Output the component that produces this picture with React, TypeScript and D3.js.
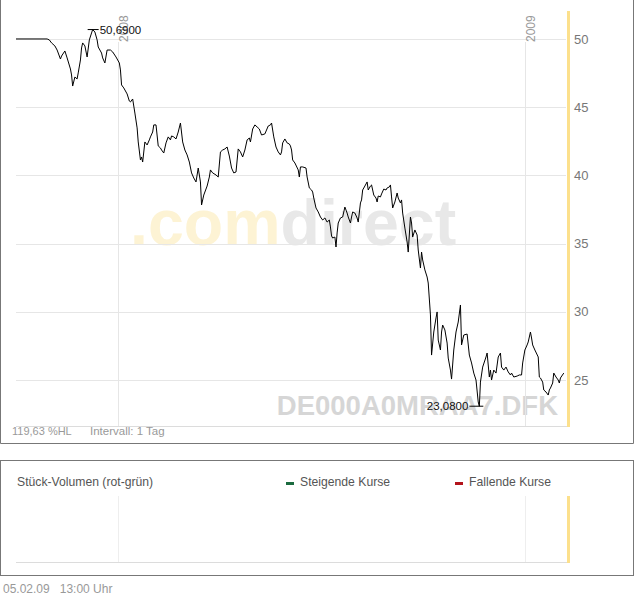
import React from "react";
import * as d3 from "d3";

// ---- data ----
const START = Date.UTC(2007, 9, 1); // 01.10.2007
const END_DAY = 495;
// calendar days after 01.10.2007
const days = [
  0, 28, 30, 32, 35, 37, 40, 41, 44, 46, 49, 50, 51, 53, 55, 56, 58, 59, 60, 62,
  64, 66, 68, 69, 71, 73, 74, 77, 78, 80, 82, 85, 87, 90, 93, 94, 95, 97, 100, 102,
  103, 105, 107, 109, 110, 112, 113, 114, 116, 118, 120, 121, 123, 124, 126, 128, 130, 131, 133, 135,
  137, 139, 140, 142, 144, 146, 148, 150, 152, 154, 156, 158, 160, 162, 164, 166, 167, 169, 172, 174,
  175, 177, 180, 182, 184, 186, 188, 190, 192, 194, 196, 198, 200, 202, 204, 206, 208, 210, 211, 213,
  215, 217, 219, 221, 224, 227, 229, 230, 232, 234, 236, 238, 239, 240, 242, 244, 246, 247, 248, 249,
  251, 254, 255, 256, 258, 261, 262, 264, 266, 267, 268, 270, 272, 274, 276, 278, 280, 282, 283, 284,
  285, 287, 288, 289, 290, 292, 294, 296, 298, 299, 301, 302, 303, 305, 307, 308, 310, 311, 312, 314,
  316, 317, 319, 320, 322, 324, 325, 326, 328, 329, 331, 333, 334, 336, 337, 338, 339, 341, 343, 344,
  346, 347, 348, 350, 352, 353, 355, 356, 357, 359, 361, 362, 364, 365, 366, 368, 370, 371, 373, 374,
  376, 378, 379, 380, 382, 383, 384, 386, 388, 389, 391, 392, 394, 396, 398, 400, 401, 403, 406, 408,
  410, 412, 414, 416, 417, 418, 420, 423, 424, 426, 427, 428, 430, 432, 434, 436, 437, 439, 441, 443,
  445, 446, 448, 451, 453, 455, 456, 458, 460, 461, 463, 464, 465, 467, 470, 471, 472, 474, 475, 477,
  479, 480, 481, 483, 484, 486, 488, 489, 490, 493,
];
const prices = [
  50.0, 50.0, 49.93, 49.71, 49.49, 49.19, 48.53, 48.75, 49.12, 48.61, 47.8, 47.36, 46.55, 47.21, 47.07, 47.51, 48.46, 49.34, 49.71, 49.49,
  48.68, 49.93, 50.44, 50.69, 50.51, 49.93, 49.41, 48.97, 48.61, 48.24, 49.19, 49.19, 49.05, 48.68, 48.24, 47.73, 46.63, 46.41, 45.97, 45.45,
  45.38, 45.6, 44.57, 43.48, 42.45, 41.13, 41.35, 40.98, 42.45, 42.23, 42.6, 42.82, 43.18, 43.7, 43.7, 42.16, 42.01, 41.86, 41.64, 42.38,
  42.82, 42.6, 42.89, 42.82, 42.67, 43.18, 43.84, 42.45, 41.86, 41.5, 40.98, 40.18, 39.81, 39.52, 40.54, 39.52, 37.83, 38.56, 39.22, 39.88,
  40.4, 40.18, 40.03, 39.88, 41.72, 41.86, 41.94, 42.08, 41.42, 40.54, 40.18, 40.25, 41.94, 41.72, 41.35, 41.86, 42.6, 42.74, 42.45, 43.4,
  43.7, 43.55, 43.4, 42.96, 43.04, 43.62, 43.7, 43.84, 42.82, 42.08, 41.72, 41.5, 41.72, 42.38, 42.67, 42.38, 42.3, 42.16, 41.86, 41.13,
  40.91, 40.4, 39.88, 40.62, 40.62, 40.54, 39.88, 39.08, 38.93, 38.78, 38.34, 37.61, 37.32, 36.95, 36.73, 36.88, 36.58, 36.73, 36.22, 35.56,
  35.41, 35.48, 34.75, 35.78, 36.51, 36.88, 36.95, 37.68, 37.24, 36.95, 36.51, 36.95, 37.32, 37.24, 36.88, 36.58, 37.98, 38.2, 38.93, 39.22,
  39.52, 38.93, 39.22, 39.3, 38.56, 38.34, 38.05, 38.49, 38.42, 38.64, 39.0, 38.93, 39.08, 39.15, 39.3, 38.42, 37.61, 38.05, 38.71, 38.34,
  37.98, 38.2, 37.24, 36.14, 35.12, 34.38, 36.95, 36.51, 35.48, 36.0, 35.63, 34.53, 33.21, 34.38, 33.8, 33.07, 32.55, 32.11, 29.77, 26.83,
  28.52, 29.55, 29.99, 27.93, 27.2, 28.52, 29.03, 28.67, 27.71, 26.61, 25.73, 25.07, 27.2, 28.52, 29.25, 30.5, 27.57, 28.3, 28.37, 26.83,
  26.25, 25.51, 25.0, 23.39, 23.08, 24.85, 25.95, 26.69, 26.98, 25.22, 25.73, 25.0, 25.73, 25.51, 26.69, 26.98, 25.95, 25.73, 25.95, 25.59,
  25.37, 25.51, 25.22, 25.29, 25.37, 25.37, 26.25, 27.2, 27.57, 27.79, 28.52, 28.08, 27.57, 27.2, 26.69, 25.22, 25.15, 24.85, 24.27, 24.12,
  23.9, 24.27, 24.41, 24.78, 25.51, 25.22, 25.0, 24.78, 25.15, 25.51,
];
const yTicks = [25, 30, 35, 40, 45, 50];
const Y_DOMAIN = [21.63, 52.05];
const isin = "DE000A0MRAA7.DFK";
const hlText = "119,63 %HL";
const intervalText = "Intervall: 1 Tag";
const volumeTitle = "Stück-Volumen (rot-grün)";
const legendItems = [
  { label: "Steigende Kurse", color: "#1b6b3f" },
  { label: "Fallende Kurse", color: "#b3141c" },
];
const footer = "05.02.09   13:00 Uhr";

const FONT = "'Liberation Sans', Arial, sans-serif";
const fmt = (v: number) => v.toFixed(4).replace(".", ",");

export default function App() {
  const W = 634, H = 597;
  const L = 16, R = 566, T = 11, B = 426;
  const x = d3.scaleUtc().domain([new Date(START), new Date(START + END_DAY * 864e5)]).range([L, R]);
  const y = d3.scaleLinear().domain(Y_DOMAIN).range([B, T]);
  const data = days.map((d, i) => ({ date: new Date(START + d * 864e5), v: prices[i] }));
  const line = d3.line<{ date: Date; v: number }>().x((d) => x(d.date)).y((d) => y(d.v));
  const years = x.ticks(d3.utcYear.every(1)!).filter((t) => x(t) > L + 5);
  const maxP = data[d3.maxIndex(data, (d) => d.v)];
  const minP = data[d3.minIndex(data, (d) => d.v)];

  // volume panel
  const vTop = 496, vBot = 562;

  return (
    <svg width={W} height={H} style={{ position: "absolute", left: 0, top: 0, background: "#fff" }} fontFamily={FONT}>
      <rect x={0} y={0} width={W} height={H} fill="#fff" />
      {/* watermark */}
      <text x={130} y={245} fontSize={64.5} fontWeight="bold">
        <tspan fill="#fdf3d4">.com</tspan>
        <tspan fill="#e8e8e8">direct</tspan>
      </text>
      <text x={558} y={415} fontSize={27.5} fontWeight="bold" fill="#d6d6d6" textAnchor="end">
        {isin}
      </text>
      {/* grid */}
      {yTicks.map((t) => (
        <line key={t} x1={L} x2={R} y1={Math.round(y(t)) + 0.5} y2={Math.round(y(t)) + 0.5} stroke="#e6e6e6" />
      ))}
      {years.map((t) => (
        <g key={+t}>
          <line x1={Math.round(x(t)) + 0.5} x2={Math.round(x(t)) + 0.5} y1={42} y2={B} stroke="#e6e6e6" />
          <text
            transform={`translate(${x(t) + 10},42) rotate(-90)`}
            fontSize={12}
            fill="#999"
          >
            {d3.utcFormat("%Y")(t)}
          </text>
        </g>
      ))}
      <line x1={L} x2={R + 3} y1={B + 0.5} y2={B + 0.5} stroke="#dcdcdc" />
      {/* yellow bar */}
      <rect x={R + 1} y={T} width={3} height={B - T + 1} fill="#fce08c" />
      {/* axis labels */}
      {yTicks.map((t) => (
        <text key={t} x={574} y={y(t)} dy="0.36em" fontSize={13} fill="#777">
          {t}
        </text>
      ))}
      {/* price line */}
      <path d={line(data) || ""} fill="none" stroke="#000" strokeWidth={1} />
      {/* max / min annotations */}
      <line x1={x(maxP.date) - 5} x2={x(maxP.date) + 6} y1={y(maxP.v)} y2={y(maxP.v)} stroke="#000" />
      <text x={x(maxP.date) + 7} y={y(maxP.v)} dy="0.36em" fontSize={11.5} fill="#111">
        {fmt(maxP.v)}
      </text>
      <line x1={x(minP.date) - 10} x2={x(minP.date) + 4} y1={y(minP.v)} y2={y(minP.v)} stroke="#000" />
      <text x={x(minP.date) - 11} y={y(minP.v)} dy="0.36em" fontSize={11.5} fill="#111" textAnchor="end">
        {fmt(minP.v)}
      </text>
      {/* bottom info */}
      <text x={12} y={435} fontSize={11} fill="#999">{hlText}</text>
      <text x={90} y={435} fontSize={11.5} fill="#999">{intervalText}</text>
      {/* frame */}
      <path d={`M0.5,0 V443.5 H633.5 V0`} fill="none" stroke="#777" />

      {/* volume panel */}
      <rect x={0.5} y={460.5} width={633} height={115} fill="none" stroke="#777" />
      <text x={17} y={486} fontSize={12.2} fill="#555">{volumeTitle}</text>
      {legendItems.map((it, i) => {
        const lx = i === 0 ? 286 : 455;
        return (
          <g key={it.label}>
            <rect x={lx} y={482} width={8} height={3} fill={it.color} />
            <text x={lx + 14} y={486} fontSize={12.2} fill="#555">{it.label}</text>
          </g>
        );
      })}
      {years.map((t) => (
        <line key={+t} x1={Math.round(x(t)) + 0.5} x2={Math.round(x(t)) + 0.5} y1={vTop} y2={vBot} stroke="#eeeeee" />
      ))}
      <line x1={L} x2={R + 3} y1={vBot + 0.5} y2={vBot + 0.5} stroke="#dcdcdc" />
      <rect x={R + 1} y={vTop} width={3} height={vBot - vTop + 1} fill="#fce08c" />
      <text x={3} y={593} fontSize={12} fill="#999" style={{ whiteSpace: "pre" }}>{footer}</text>
    </svg>
  );
}
